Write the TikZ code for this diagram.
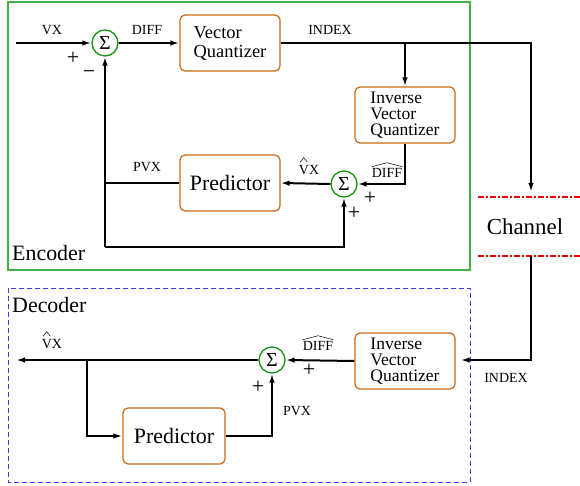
\documentclass[tikz,border=0pt]{standalone}
\usepackage{fontspec}
\setmainfont{Liberation Serif}
\usetikzlibrary{arrows.meta}
\definecolor{encgreen}{RGB}{70,175,70}
\definecolor{sumgreen}{RGB}{20,150,20}
\definecolor{boxorange}{RGB}{200,105,20}
\definecolor{decblue}{RGB}{60,60,245}
\definecolor{chred}{RGB}{230,0,0}
\newcommand{\myfs}[2]{\fontsize{#1}{#2}\selectfont}
\begin{document}
\begin{tikzpicture}[x=1bp,y=-1bp,
  conn/.style={line width=2bp},
  arr/.style={conn,-{Latex[length=9bp,width=5.5bp]}},
  blk/.style={draw=boxorange,line width=1.2bp,rounded corners=5bp,minimum width=100bp,minimum height=56bp,inner sep=0pt,align=left},
  summ/.style={circle,draw=sumgreen,line width=1.3bp,minimum size=26bp,inner sep=0pt,font=\myfs{20}{20}},
  lbl/.style={inner sep=0pt,font=\myfs{14}{14}},
  sgn/.style={inner sep=0pt,font=\myfs{22}{22}},
  ttl/.style={inner sep=0pt,font=\myfs{22}{22}},
  hatline/.style={line width=0.5bp}]

\useasboundingbox (0,0) rectangle (580,486);

% frames
\draw[encgreen,line width=1.2bp] (8,2) rectangle (470,270);
\draw[decblue,line width=1bp,dash pattern=on 5bp off 3bp] (8,288) rectangle (470,482);
\node[ttl,anchor=west] (enc) at (12,253) {Encoder};
\node[ttl,anchor=west] (dec) at (12,305) {Decoder};

% channel
\draw[chred,line width=1.2bp,dash pattern=on 6bp off 2bp on 2bp off 2bp] (478,197) -- (580,197);
\draw[chred,line width=1.2bp,dash pattern=on 6bp off 2bp on 2bp off 2bp] (478,256) -- (580,256);
\node[ttl,font=\myfs{23}{23}] (chan) at (525,227) {Channel};

% ---------------- encoder nodes
\node[summ] (sum1) at (105,43) {Σ};
\node[blk,font=\myfs{18.5}{19}] (vq) at (230,43) {Vector\\Quantizer};
\node[blk,font=\myfs{17.6}{16}] (ivq) at (405,115) {Inverse\\Vector\\Quantizer};
\node[blk,font=\myfs{22}{22}] (pred) at (230,183) {Predictor};
\node[summ] (sum2) at (344,184) {Σ};

\coordinate (in1) at (16,43);
\coordinate (c1) at (531,43);
\coordinate (ch1) at (531,192);
\coordinate (b1) at (405,43);
\coordinate (fb) at (105,247);

\draw[arr] (in1) -- (sum1.west);
\draw[arr] (sum1.east) -- (vq.west);
\draw[arr] (vq.east) -- (c1) -- (ch1);
\draw[arr] (b1) -- (ivq.north);
\draw[arr] (ivq.south) -- (ivq.south |- sum2) -- (sum2.east);
\draw[arr] (sum2.west) -- (pred.east);
\draw[conn] (pred.west) -- (pred.west -| fb);
\draw[arr] (fb) -- (sum1.south);
\draw[arr] (fb) -- (fb -| sum2) -- (sum2.south);

% encoder labels
\node[lbl] (lvx) at (52,30) {VX};
\node[lbl] (ldiff) at (147,30) {DIFF};
\node[lbl] (lidx) at (330,30) {INDEX};
\node[lbl] (lpvx) at (147,167) {PVX};
\node[lbl] (lvxh) at (309,170) {VX};
\draw[hatline] ([xshift=1.5bp,yshift=3bp]lvxh.north west) -- ([xshift=5bp,yshift=7.5bp]lvxh.north west) -- ([xshift=8.5bp,yshift=3bp]lvxh.north west);
\node[lbl] (ldh) at (387,173) {DIFF};
\draw[hatline] ([yshift=1.5bp]ldh.north west) -- ([yshift=5.5bp]ldh.north) -- ([yshift=1.5bp]ldh.north east);
\node[sgn] (p1) at (73,58) {+};
\node[sgn] (m1) at (89,75) {−};
\node[sgn] (p2) at (370,198) {+};
\node[sgn] (p3) at (354,213) {+};

% ---------------- decoder nodes
\node[blk,font=\myfs{17.6}{16}] (ivq2) at (405,361) {Inverse\\Vector\\Quantizer};
\node[summ] (sum3) at (272,360) {Σ};
\node[blk,font=\myfs{22}{22},minimum width=102bp] (pred2) at (174,436) {Predictor};

\coordinate (ch2) at (531,256);
\coordinate (c2) at (531,360);
\coordinate (out) at (16,360);
\coordinate (b2) at (87,360);

\draw[arr,shorten >=5bp] (ch2) -- (c2) -- (c2 -| ivq2.east);
\draw[arr] (ivq2.west) -- (sum3.east);
\draw[arr] (sum3.west) -- (out);
\draw[arr] (b2) -- (b2 |- pred2) -- (pred2.west);
\draw[arr] (pred2.east) -- (pred2.east -| sum3) -- (sum3.south);

% decoder labels
\node[lbl] (lidx2) at (506,378) {INDEX};
\node[lbl] (ldh2) at (318,346) {DIFF};
\draw[hatline] ([yshift=1.5bp]ldh2.north west) -- ([yshift=5.5bp]ldh2.north) -- ([yshift=1.5bp]ldh2.north east);
\node[lbl] (lvxh2) at (52,344) {VX};
\draw[hatline] ([xshift=1.5bp,yshift=3bp]lvxh2.north west) -- ([xshift=5bp,yshift=7.5bp]lvxh2.north west) -- ([xshift=8.5bp,yshift=3bp]lvxh2.north west);
\node[lbl] (lpvx2) at (297,411) {PVX};
\node[sgn] (p4) at (309,370) {+};
\node[sgn] (p5) at (258,387) {+};
\end{tikzpicture}
\end{document}
